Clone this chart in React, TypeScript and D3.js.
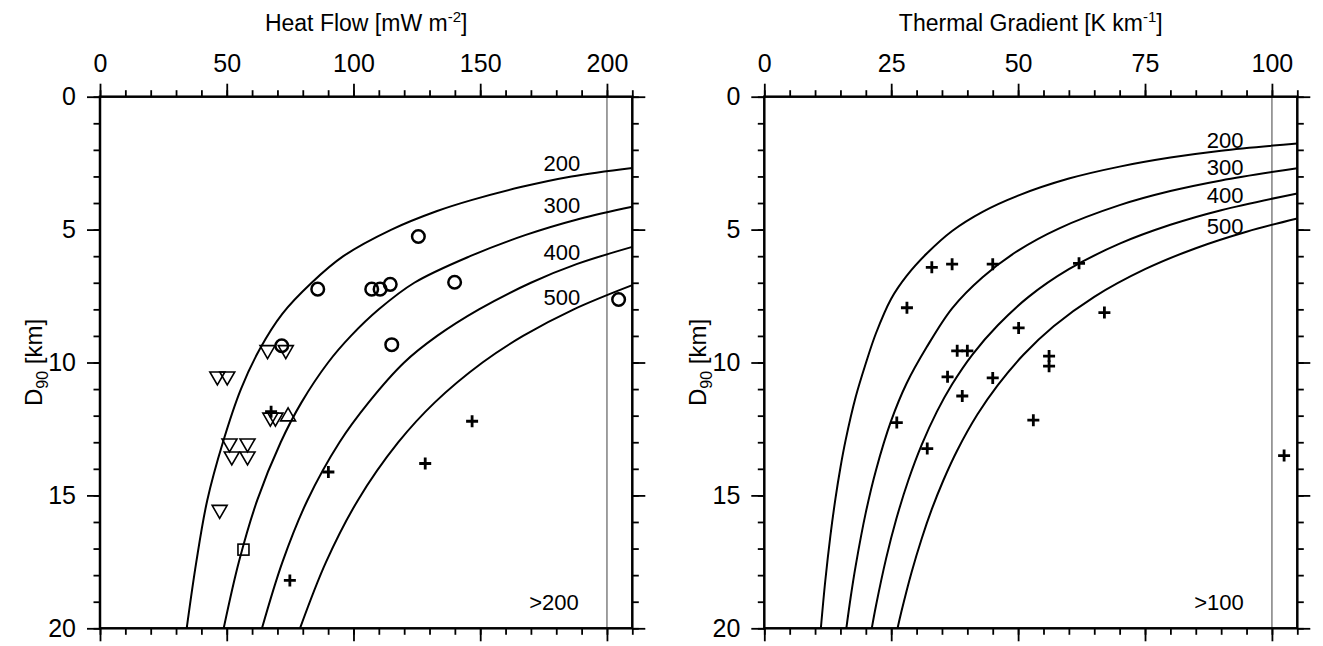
import { useEffect, useRef } from "react"
import * as d3 from "d3"

// ---- heat flow panel: isotherms as [heat flow mW/m2, D90 km]
const hfCurve200 = [[34.2, 20], [38.0, 17.5], [42.3, 15.19], [48.5, 13], [55.6, 11], [63, 9.5], [72, 8.16], [83.5, 7], [96, 6], [115, 5], [133, 4.3], [146.5, 3.89], [166, 3.4], [186, 3], [210, 2.68]]
const hfCurve300 = [[48.8, 20], [54.8, 17.5], [62, 15.19], [71.3, 13], [79.5, 11.5], [90, 10], [99, 9], [110, 8], [124, 7], [146, 6], [168, 5.2], [189, 4.6], [210, 4.14]]
const hfCurve400 = [[63.9, 20], [72, 17.5], [81.8, 15.19], [94.5, 13], [106, 11.5], [120, 10], [133, 9], [149.5, 8], [170, 7], [188, 6.3], [210, 5.65]]
const hfCurve500 = [[78.9, 20], [89.2, 17.5], [101.7, 15.19], [117.7, 13], [132.1, 11.5], [150.9, 10], [166.9, 9], [186.9, 8], [210, 7.09]]
const curveNames = ["200", "300", "400", "500"]
const hfLabelPos = [[182.2, 2.5], [182.2, 4.08], [182.2, 5.84], [182.2, 7.53]]

// heat flow markers [q, D90]
const hfCircles = [[85.9, 7.24], [107.2, 7.24], [110.5, 7.24], [114.5, 7.06], [125.6, 5.26], [139.9, 6.98], [204.6, 7.63], [115.1, 9.33], [71.7, 9.37]]
const hfDownTri = [[66.1, 9.61], [73.3, 9.61], [46.3, 10.6], [50.2, 10.6], [67.2, 12.15], [69.2, 12.15], [51.1, 13.12], [58.2, 13.12], [52.0, 13.61], [58.2, 13.61], [47.2, 15.62]]
const hfUpTri = [[74.2, 11.95]]
const hfSquares = [[56.6, 17.04]]
const hfPlus = [[67.5, 11.85], [90.1, 14.12], [74.9, 18.2], [128.3, 13.8], [146.8, 12.21]]

// ---- thermal gradient panel: isotherms as [gradient K/km, D90 km]
const tgCurve200 = [[11.14, 20], [12, 18.24], [13, 16.55], [14, 15.14], [15, 13.95], [16, 12.94], [18, 11.3], [20, 10.03], [22, 8.9], [25, 7.6], [28, 6.75], [32, 5.9], [37, 5.05], [43, 4.33], [50, 3.72], [60, 3.08], [70, 2.63], [80, 2.29], [90, 2.03], [105, 1.76]]
const tgCurve300 = [[16.16, 20], [17, 18.85], [18, 17.65], [20, 15.64], [22, 14.05], [25, 12.19], [28, 10.8], [32, 9.42], [37, 7.96], [43, 6.79], [50, 5.79], [58, 4.96], [70, 4.08], [80, 3.55], [90, 3.15], [105, 2.69]]
const tgCurve400 = [[21.17, 20], [22, 19.15], [24, 17.37], [26, 15.89], [28.38, 14.43], [31, 13.1], [34, 11.85], [37, 10.82], [41, 9.7], [46, 8.6], [52, 7.54], [60, 6.49], [70, 5.53], [80, 4.82], [90, 4.27], [105, 3.64]]
const tgCurve500 = [[26.25, 20], [27, 19.38], [29, 17.9], [31, 16.63], [33, 15.52], [35.28, 14.43], [38, 13.31], [42, 11.95], [46, 10.85], [51, 9.72], [57, 8.64], [65, 7.53], [75, 6.49], [85, 5.7], [95, 5.08], [105, 4.58]]
const tgLabelPos = [[90.8, 1.63], [90.8, 2.64], [90.8, 3.72], [90.8, 4.87]]

const tgPlus = [[33.0, 6.42], [37.0, 6.3], [45.0, 6.3], [62.0, 6.27], [28.1, 7.94], [50.1, 8.7], [67.0, 8.12], [38.0, 9.56], [40.0, 9.56], [56.1, 9.76], [56.1, 10.14], [36.1, 10.54], [45.0, 10.58], [39.0, 11.26], [26.1, 12.26], [53.0, 12.17], [32.1, 13.24], [102.4, 13.5]]

const hfMajor = [0, 50, 100, 150, 200]
const hfMinor = d3.range(0, 211, 10)
const tgMajor = [0, 25, 50, 75, 100]
const tgMinor = d3.range(0, 106, 5)
const depthMajor = [0, 5, 10, 15, 20]
const depthMinor = d3.range(0, 21, 1)

const FONT = "'Liberation Sans', Arial, Helvetica, sans-serif"

export default function App() {
    const ref = useRef(null)

    useEffect(() => {
        d3.select(ref.current).selectAll('*').remove()
        buildGraph()
    }, [])

    function buildGraph() {
        const width = 1323, height = 646
        const top = 96.7, bottom = 628.3

        const svg = d3.select(ref.current).append('svg')
            .attr('width', width)
            .attr('height', height)
            .attr('viewBox', [0, 0, width, height])
            .style('position', 'absolute')
            .style('left', 0)
            .style('top', 0)
            .style('background', 'white')

        const y = d3.scaleLinear().domain([0, 20]).range([top, bottom])

        const panels = [{
            id: 'hf',
            x: d3.scaleLinear().domain([0, 210]).range([100, 632.3]),
            major: hfMajor, minor: hfMinor, ref: 200,
            title: ['Heat Flow [mW m', '-2', ']'],
            curves: [hfCurve200, hfCurve300, hfCurve400, hfCurve500],
            labelPos: hfLabelPos,
            note: '>200', noteX: 554,
            circles: hfCircles, down: hfDownTri, up: hfUpTri, squares: hfSquares, plus: hfPlus,
        }, {
            id: 'tg',
            x: d3.scaleLinear().domain([0, 105]).range([764.3, 1297.3]),
            major: tgMajor, minor: tgMinor, ref: 100,
            title: ['Thermal Gradient [K km', '-1', ']'],
            curves: [tgCurve200, tgCurve300, tgCurve400, tgCurve500],
            labelPos: tgLabelPos,
            note: '>100', noteX: 1219,
            circles: [], down: [], up: [], squares: [], plus: tgPlus,
        }]

        panels.forEach(p => {
            const x = p.x
            const [x0, x1] = x.range()
            const g = svg.append('g')

            g.append('clipPath').attr('id', 'clip-' + p.id)
                .append('rect').attr('x', x0).attr('y', top).attr('width', x1 - x0).attr('height', bottom - top)

            // reference line at the right
            g.append('line')
                .attr('x1', x(p.ref)).attr('x2', x(p.ref))
                .attr('y1', top).attr('y2', bottom)
                .attr('stroke', '#808080').attr('stroke-width', 1.5)

            // isotherms
            const line = d3.line().x(d => x(d[0])).y(d => y(d[1])).curve(d3.curveCatmullRom)
            g.append('g').attr('clip-path', `url(#clip-${p.id})`)
                .selectAll('path')
                .data(p.curves)
                .join('path')
                .attr('d', d => line(d))
                .attr('fill', 'none')
                .attr('stroke', 'black')
                .attr('stroke-width', 2)

            g.append('g')
                .selectAll('text')
                .data(p.labelPos)
                .join('text')
                .attr('font-family', FONT).attr('font-size', 22)
                .attr('text-anchor', 'middle')
                .attr('x', d => x(d[0]))
                .attr('y', d => y(d[1]))
                .attr('dy', '0.36em')
                .text((_, i) => curveNames[i])

            g.append('text')
                .attr('font-family', FONT).attr('font-size', 22)
                .attr('text-anchor', 'middle')
                .attr('x', p.noteX).attr('y', y(19.0)).attr('dy', '0.36em')
                .text(p.note)

            // axes
            const styleAxis = (sel) => {
                sel.select('.domain').remove()
                sel.selectAll('line').attr('stroke', 'black').attr('stroke-width', 1.8)
                sel.selectAll('text')
                    .attr('fill', 'black')
                    .attr('font-family', FONT)
                    .attr('font-size', 25)
            }
            const bigT = 13, smallT = 6.5
            const blank = () => ''

            g.append('g').attr('transform', `translate(0,${top})`)
                .call(d3.axisTop(x).tickValues(p.minor).tickSize(smallT).tickFormat(blank)).call(styleAxis)
            g.append('g').attr('transform', `translate(0,${top})`)
                .call(d3.axisTop(x).tickValues(p.major).tickSize(bigT).tickPadding(12).tickFormat(d3.format('d'))).call(styleAxis)

            g.append('g').attr('transform', `translate(0,${bottom})`)
                .call(d3.axisBottom(x).tickValues(p.minor).tickSize(smallT).tickFormat(blank)).call(styleAxis)
            g.append('g').attr('transform', `translate(0,${bottom})`)
                .call(d3.axisBottom(x).tickValues(p.major).tickSize(bigT).tickFormat(blank)).call(styleAxis)

            g.append('g').attr('transform', `translate(${x0},0)`)
                .call(d3.axisLeft(y).tickValues(depthMinor).tickSize(smallT).tickFormat(blank)).call(styleAxis)
            g.append('g').attr('transform', `translate(${x0},0)`)
                .call(d3.axisLeft(y).tickValues(depthMajor).tickSize(bigT).tickPadding(11).tickFormat(d3.format('d'))).call(styleAxis)

            g.append('g').attr('transform', `translate(${x1},0)`)
                .call(d3.axisRight(y).tickValues(depthMinor).tickSize(smallT).tickFormat(blank)).call(styleAxis)
            g.append('g').attr('transform', `translate(${x1},0)`)
                .call(d3.axisRight(y).tickValues(depthMajor).tickSize(bigT).tickFormat(blank)).call(styleAxis)

            // frame
            g.append('rect')
                .attr('x', x0).attr('y', top)
                .attr('width', x1 - x0).attr('height', bottom - top)
                .attr('fill', 'none').attr('stroke', 'black').attr('stroke-width', 2.5)

            // axis titles
            const t = g.append('text')
                .attr('font-family', FONT).attr('font-size', 23)
                .attr('text-anchor', 'middle')
                .attr('x', (x0 + x1) / 2).attr('y', 31)
            t.append('tspan').text(p.title[0])
            t.append('tspan').attr('font-size', 15).attr('dy', -9).text(p.title[1])
            t.append('tspan').attr('dy', 9).text(p.title[2])

            const yl = g.append('text')
                .attr('font-family', FONT).attr('font-size', 24)
                .attr('text-anchor', 'middle')
                .attr('transform', `translate(${x0 - 58},${(top + bottom) / 2}) rotate(-90)`)
            yl.append('tspan').text('D')
            yl.append('tspan').attr('font-size', 16).attr('dy', 6).text('90')
            yl.append('tspan').attr('dy', -6).text(' [km]')

            // markers
            const m = g.append('g').attr('fill', 'none').attr('stroke', 'black')
            m.selectAll('circle')
                .data(p.circles)
                .join('circle')
                .attr('cx', d => x(d[0])).attr('cy', d => y(d[1]))
                .attr('r', 6.3).attr('stroke-width', 2.5)

            const tri = (d, dir) => {
                const cx = x(d[0]), cy = y(d[1])
                return dir < 0
                    ? `M${cx - 7.5},${cy - 6.5}L${cx + 7.5},${cy - 6.5}L${cx},${cy + 6.5}Z`
                    : `M${cx - 7.5},${cy + 6.5}L${cx + 7.5},${cy + 6.5}L${cx},${cy - 6.5}Z`
            }
            m.selectAll('path.down')
                .data(p.down)
                .join('path').attr('class', 'down')
                .attr('d', d => tri(d, -1)).attr('stroke-width', 1.6)
            m.selectAll('path.up')
                .data(p.up)
                .join('path').attr('class', 'up')
                .attr('d', d => tri(d, 1)).attr('stroke-width', 1.6)
            m.selectAll('rect')
                .data(p.squares)
                .join('rect')
                .attr('x', d => x(d[0]) - 5.5).attr('y', d => y(d[1]) - 5.5)
                .attr('width', 11).attr('height', 11).attr('stroke-width', 1.6)
            m.selectAll('path.plus')
                .data(p.plus)
                .join('path').attr('class', 'plus')
                .attr('d', d => {
                    const cx = x(d[0]), cy = y(d[1])
                    return `M${cx - 6},${cy}H${cx + 6}M${cx},${cy - 6}V${cy + 6}`
                })
                .attr('stroke-width', 2.8)
        })
    }

    return <div ref={ref}></div>
}
